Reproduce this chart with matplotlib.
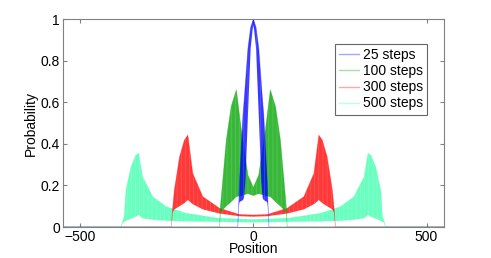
import matplotlib
matplotlib.use("Agg")
import matplotlib.pyplot as plt
from matplotlib.lines import Line2D

# ---- data ----
labels = ["25 steps", "100 steps", "300 steps", "500 steps"]
colors = ["#0000ff", "#00a400", "#ff0000", "#40ffb0"]

x25 = [-550, -45, -42, -40, -30, -27, -23, -15.6, -7.8, -2, 0, 2, 7.8, 15.6, 23, 27, 30, 40, 42, 45, 550]
hi25 = [0, 0, 0.12, 0.22, 0.54, 0.60, 0.69, 0.86, 0.96, 0.99, 1.0, 0.99, 0.96, 0.86, 0.69, 0.60, 0.54, 0.22, 0.12, 0, 0]
lo25 = [0, 0, 0.10, 0.12, 0.13, 0.14, 0.22, 0.54, 0.86, 0.95, 0.97, 0.95, 0.86, 0.54, 0.22, 0.14, 0.13, 0.12, 0.10, 0, 0]

x100 = [-550, -97.5, -95, -78, -64, -49, -35, -15.6, 0, 15.6, 35, 49, 64, 78, 95, 97.5, 550]
hi100 = [0, 0, 0.10, 0.42, 0.58, 0.66, 0.47, 0.25, 0.19, 0.25, 0.47, 0.66, 0.58, 0.42, 0.10, 0, 0]
lo100 = [0, 0, 0.07, 0.10, 0.12, 0.145, 0.15, 0.16, 0.15, 0.16, 0.15, 0.145, 0.12, 0.10, 0.07, 0, 0]

x300 = [-550, -237, -233, -228, -213, -199, -189, -175, -146, -97.6, -39.7, 0,
        39.7, 97.6, 146, 175, 189, 199, 213, 228, 233, 237, 550]
hi300 = [0, 0, 0.09, 0.178, 0.338, 0.418, 0.442, 0.258, 0.146, 0.09, 0.06, 0.058,
         0.06, 0.09, 0.146, 0.258, 0.442, 0.418, 0.338, 0.178, 0.09, 0, 0]
lo300 = [0, 0, 0.07, 0.085, 0.10, 0.115, 0.13, 0.11, 0.085, 0.065, 0.052, 0.05,
         0.052, 0.065, 0.085, 0.11, 0.13, 0.115, 0.10, 0.085, 0.07, 0, 0]

x500 = [-550, -382, -377, -372.6, -367.7, -353, -339, -331, -320, -290.6, -252, -194, -100, 0,
        100, 194, 252, 290.6, 320, 331, 339, 353, 367.7, 372.6, 377, 382, 550]
hi500 = [0, 0, 0.03, 0.05, 0.178, 0.29, 0.346, 0.354, 0.242, 0.146, 0.098, 0.066, 0.042, 0.036,
         0.042, 0.066, 0.098, 0.146, 0.242, 0.354, 0.346, 0.29, 0.178, 0.05, 0.03, 0, 0]
lo500 = [0, 0, 0.02, 0.025, 0.03, 0.04, 0.05, 0.058, 0.042, 0.035, 0.03, 0.027, 0.025, 0.022,
         0.025, 0.027, 0.03, 0.035, 0.042, 0.058, 0.05, 0.04, 0.03, 0.025, 0.02, 0, 0]

xs = [x25, x100, x300, x500]
his = [hi25, hi100, hi300, hi500]
los = [lo25, lo100, lo300, lo500]

xticks = [-500, 0, 500]
yticks = [0, 0.2, 0.4, 0.6, 0.8, 1]
ytick_labels = ["0", "0.2", "0.4", "0.6", "0.8", "1"]

plt.rcParams['font.family'] = ['Liberation Sans', 'DejaVu Sans']
plt.rcParams['font.size'] = 10
plt.rcParams['hatch.linewidth'] = 0.5

fig = plt.figure(figsize=(4.91, 2.58), dpi=100)
ax = fig.add_axes([0.128, 0.120, 0.776, 0.806])

n = len(labels)
for i in reversed(range(n)):
    z = 2 + (n - i)
    ax.fill_between(xs[i], los[i], his[i], facecolor=colors[i], alpha=0.78,
                    linewidth=0, zorder=z)
    ax.fill_between(xs[i], los[i], his[i], facecolor='none', edgecolor=(1, 1, 1, 0.18),
                    hatch='||||', linewidth=0, zorder=z)
    ax.plot(xs[i], his[i], color=colors[i], alpha=0.35, lw=0.6, zorder=z)

ax.set_xlim(-550, 550)
ax.set_ylim(0, 1)
ax.set_xticks(xticks)
ax.set_xticklabels(["\u2212500", "0", "500"])
ax.set_yticks(yticks)
ax.set_yticklabels(ytick_labels)
ax.tick_params(direction='in', length=3, top=True, right=True, color='#808080',
               labelsize=10, pad=2)
for s in ax.spines.values():
    s.set_color('#808080')
    s.set_linewidth(0.8)
    s.set_zorder(10)

ax.set_xlabel("Position", fontsize=10, labelpad=-1)
ax.set_ylabel("Probability", fontsize=10, labelpad=2)

handles = [Line2D([0], [0], color=c, alpha=0.35, lw=1.0) for c in colors]
leg = ax.legend(handles, labels, loc='upper left', bbox_to_anchor=(0.714, 0.88),
                frameon=True, fancybox=False, handlelength=1.4, handletextpad=0.3,
                borderpad=0.3, labelspacing=0.15, borderaxespad=0, fontsize=10)
leg.get_frame().set_edgecolor('#404040')
leg.get_frame().set_linewidth(0.8)
leg.set_zorder(20)

fig.savefig("out.png", dpi=100)
